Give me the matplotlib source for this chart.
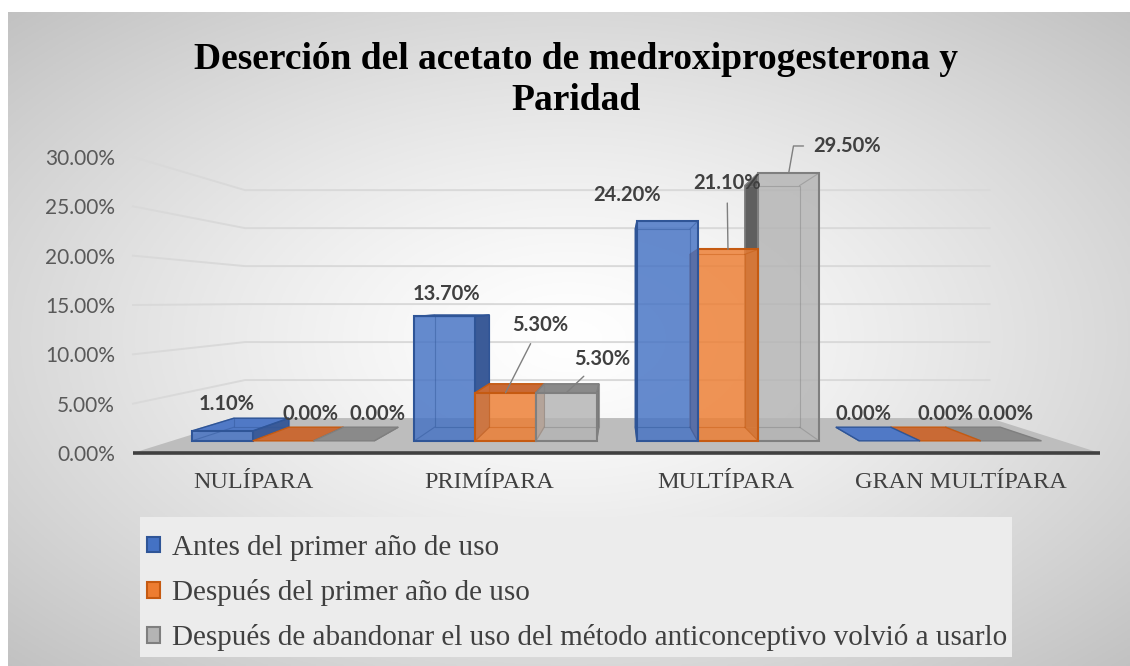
import numpy as np
import matplotlib
matplotlib.use('Agg')
import matplotlib.pyplot as plt
from matplotlib.patches import Polygon, Patch, Rectangle

# data
categories = ['NULÍPARA', 'PRIMÍPARA', 'MULTÍPARA', 'GRAN MULTÍPARA']
series_names = ['Antes del primer año de uso',
                'Después del primer año de uso',
                'Después de abandonar el uso del método anticonceptivo volvió a usarlo']
antes = [1.1, 13.7, 24.2, 0.0]
despues = [0.0, 5.3, 21.1, 0.0]
volvio = [0.0, 5.3, 29.5, 0.0]
y_ticks = [0, 5, 10, 15, 20, 25, 30]
series = [antes, despues, volvio]

# styles
face = ['#4472c4', '#ed7d31', '#b4b4b4']
edge = ['#2f5597', '#c55a11', '#7f7f7f']
side = ['#3b5b98', '#b8622a', '#5f5f5f']
top = ['#5079c6', '#c96a35', '#8a8a8a']

# fake 3d perspective (vanishing point in front-plane data units)
XV, YV = 2.014, 15.4
K_WALL = 0.77
K_FRONT, K_BACK = 0.92, 0.83
BAR_W = 0.273

# label offsets in points, leader lines: None / connection style
lab_off = [[(3, 19), (1.5, 16.5), (-29, 19), (-19, 19)],
           [(20, 19), (25, 49), (-0.7, 47.5), (-3.6, 19)],
           [(24.5, 19), (26, 24.5), (42, 19.5), (-4.3, 19)]]
leaders = {(1, 1): 'arc3', (2, 1): 'arc3', (1, 2): 'arc3',
           (2, 2): 'angle,angleA=180,angleB=80,rad=0'}


def proj(x, y, k):
    return (XV + (x - XV) * k, YV + (y - YV) * k)


def poly(ax, pts, **kw):
    ax.add_patch(Polygon(pts, closed=True, clip_on=False, **kw))


fig = plt.figure(figsize=(11.3, 6.66), dpi=100)

# background gradient
bg = fig.add_axes([8 / 1130, 0, 1122 / 1130, 654 / 666], zorder=-10)
u, v = np.meshgrid(np.linspace(-1, 1, 400), np.linspace(-1, 1, 300))
r = np.clip(np.sqrt(u ** 2 + v ** 2) / np.sqrt(2), 0, 1)
g = 1 - 0.24 * r ** 1.3
bg.imshow(np.dstack([g, g, g]), aspect='auto', extent=[0, 1, 0, 1])
bg.axis('off')

ax = fig.add_axes([133 / 1130, (666 - 453) / 666, 967 / 1130, 296 / 666])
ax.patch.set_visible(False)
ax.set_xlim(0, 4)
ax.set_ylim(0, 30)
for s in ax.spines.values():
    s.set_visible(False)

# gridlines on side + back wall
for t in y_ticks[1:]:
    p0 = proj(0, t, 1)
    p1 = proj(0, t, K_WALL)
    p2 = proj(4, t, K_WALL)
    ax.plot([p0[0], p1[0], p2[0]], [p0[1], p1[1], p2[1]], color='#d9d9d9',
            lw=1.4, clip_on=False, zorder=1)

# floor
poly(ax, [proj(0, 0, 1), proj(4, 0, 1), proj(4, 0, K_WALL), proj(0, 0, K_WALL)],
     facecolor='#bdbdbd', edgecolor='none', zorder=2)
ax.plot([0, 4], [0, 0], color='#404040', lw=2.6, clip_on=False, zorder=3,
        solid_capstyle='butt')

# bars, drawn from the outside in
bars = []
for s, vals in enumerate(series):
    for i, val in enumerate(vals):
        c = i + 0.5 + (s - 1) * BAR_W
        bars.append((abs(c - XV), s, i, c, val))
bars.sort(key=lambda b: -b[0])

z = 4
for _, s, i, c, val in bars:
    x0, x1 = c - BAR_W / 2, c + BAR_W / 2
    xs = x1 if c < XV else x0
    poly(ax, [proj(xs, 0, K_FRONT), proj(xs, 0, K_BACK), proj(xs, val, K_BACK),
              proj(xs, val, K_FRONT)], facecolor=side[s], edgecolor=edge[s],
         lw=1, zorder=z)
    if val < YV:
        poly(ax, [proj(x0, val, K_FRONT), proj(x1, val, K_FRONT),
                  proj(x1, val, K_BACK), proj(x0, val, K_BACK)],
             facecolor=top[s], edgecolor=edge[s], lw=1, zorder=z)
    # back edges seen through the bar
    b = [proj(x0, 0, K_BACK), proj(x1, 0, K_BACK), proj(x1, val, K_BACK),
         proj(x0, val, K_BACK)]
    f = [proj(x0, 0, K_FRONT), proj(x1, 0, K_FRONT), proj(x1, val, K_FRONT),
         proj(x0, val, K_FRONT)]
    if val > 0:
        poly(ax, f, facecolor=face[s], edgecolor='none', alpha=0.82, zorder=z + 0.1)
        for a, bb in zip(f, b):
            ax.plot([a[0], bb[0]], [a[1], bb[1]], color=edge[s], lw=0.8,
                    alpha=0.45, clip_on=False, zorder=z + 0.2)
        poly(ax, b, facecolor='none', edgecolor=edge[s], lw=0.8, alpha=0.45,
             zorder=z + 0.2)
        poly(ax, f, facecolor='none', edgecolor=edge[s], lw=1.5, zorder=z + 0.3)
    z += 1

# data labels
for s, vals in enumerate(series):
    for i, val in enumerate(vals):
        c = i + 0.5 + (s - 1) * BAR_W
        conn = leaders.get((s, i))
        kw = {}
        if conn:
            kw['arrowprops'] = dict(arrowstyle='-', color='#7f7f7f', lw=1,
                                    connectionstyle=conn, shrinkA=5, shrinkB=0,
                                    relpos=(0, 0.5) if conn.startswith('angle') else (0.5, 0.5))
        ax.annotate('{:.2f}%'.format(val), xy=proj(c, val, K_FRONT),
                    xytext=lab_off[s][i], textcoords='offset points',
                    ha='center', va='center', fontsize=14.5, fontweight='bold',
                    family='Lato', color='#404040', zorder=30,
                    annotation_clip=False, **kw)

ax.set_yticks(y_ticks)
ax.set_yticklabels(['{:.2f}%'.format(t) for t in y_ticks], family='Lato',
                   fontsize=15, color='#595959')
ax.set_xticks([i * 0.975 + 0.5 for i in range(len(categories))])
ax.set_xticklabels(categories, family='Liberation Serif', fontsize=17.5,
                   color='#404040')
ax.tick_params(axis='y', length=0, pad=13)
ax.tick_params(axis='x', length=0, pad=14)

fig.text(0.51, 1 - 80 / 666,
         'Deserción del acetato de medroxiprogesterona y\nParidad',
         ha='center', va='center', family='Liberation Serif', fontweight='bold',
         fontsize=27, linespacing=1.24)

# legend box background
fig.patches.append(Rectangle((140 / 1130, 9 / 666), 872 / 1130, 140 / 666,
                             transform=fig.transFigure, facecolor='#ececec',
                             edgecolor='none', zorder=0.5))

handles = [Patch(facecolor=face[k], edgecolor=edge[k], lw=1.5)
           for k in range(3)]
leg = fig.legend(handles, series_names, loc='upper left',
                 bbox_to_anchor=(147 / 1130, 1 - 535 / 666),
                 prop={'family': 'Liberation Serif', 'size': 21},
                 labelcolor='#404040', frameon=False,
                 handlelength=0.45, handleheight=0.45, handletextpad=0.4,
                 labelspacing=0.62, borderpad=0, borderaxespad=0)

fig.savefig('out.png', dpi=100)
